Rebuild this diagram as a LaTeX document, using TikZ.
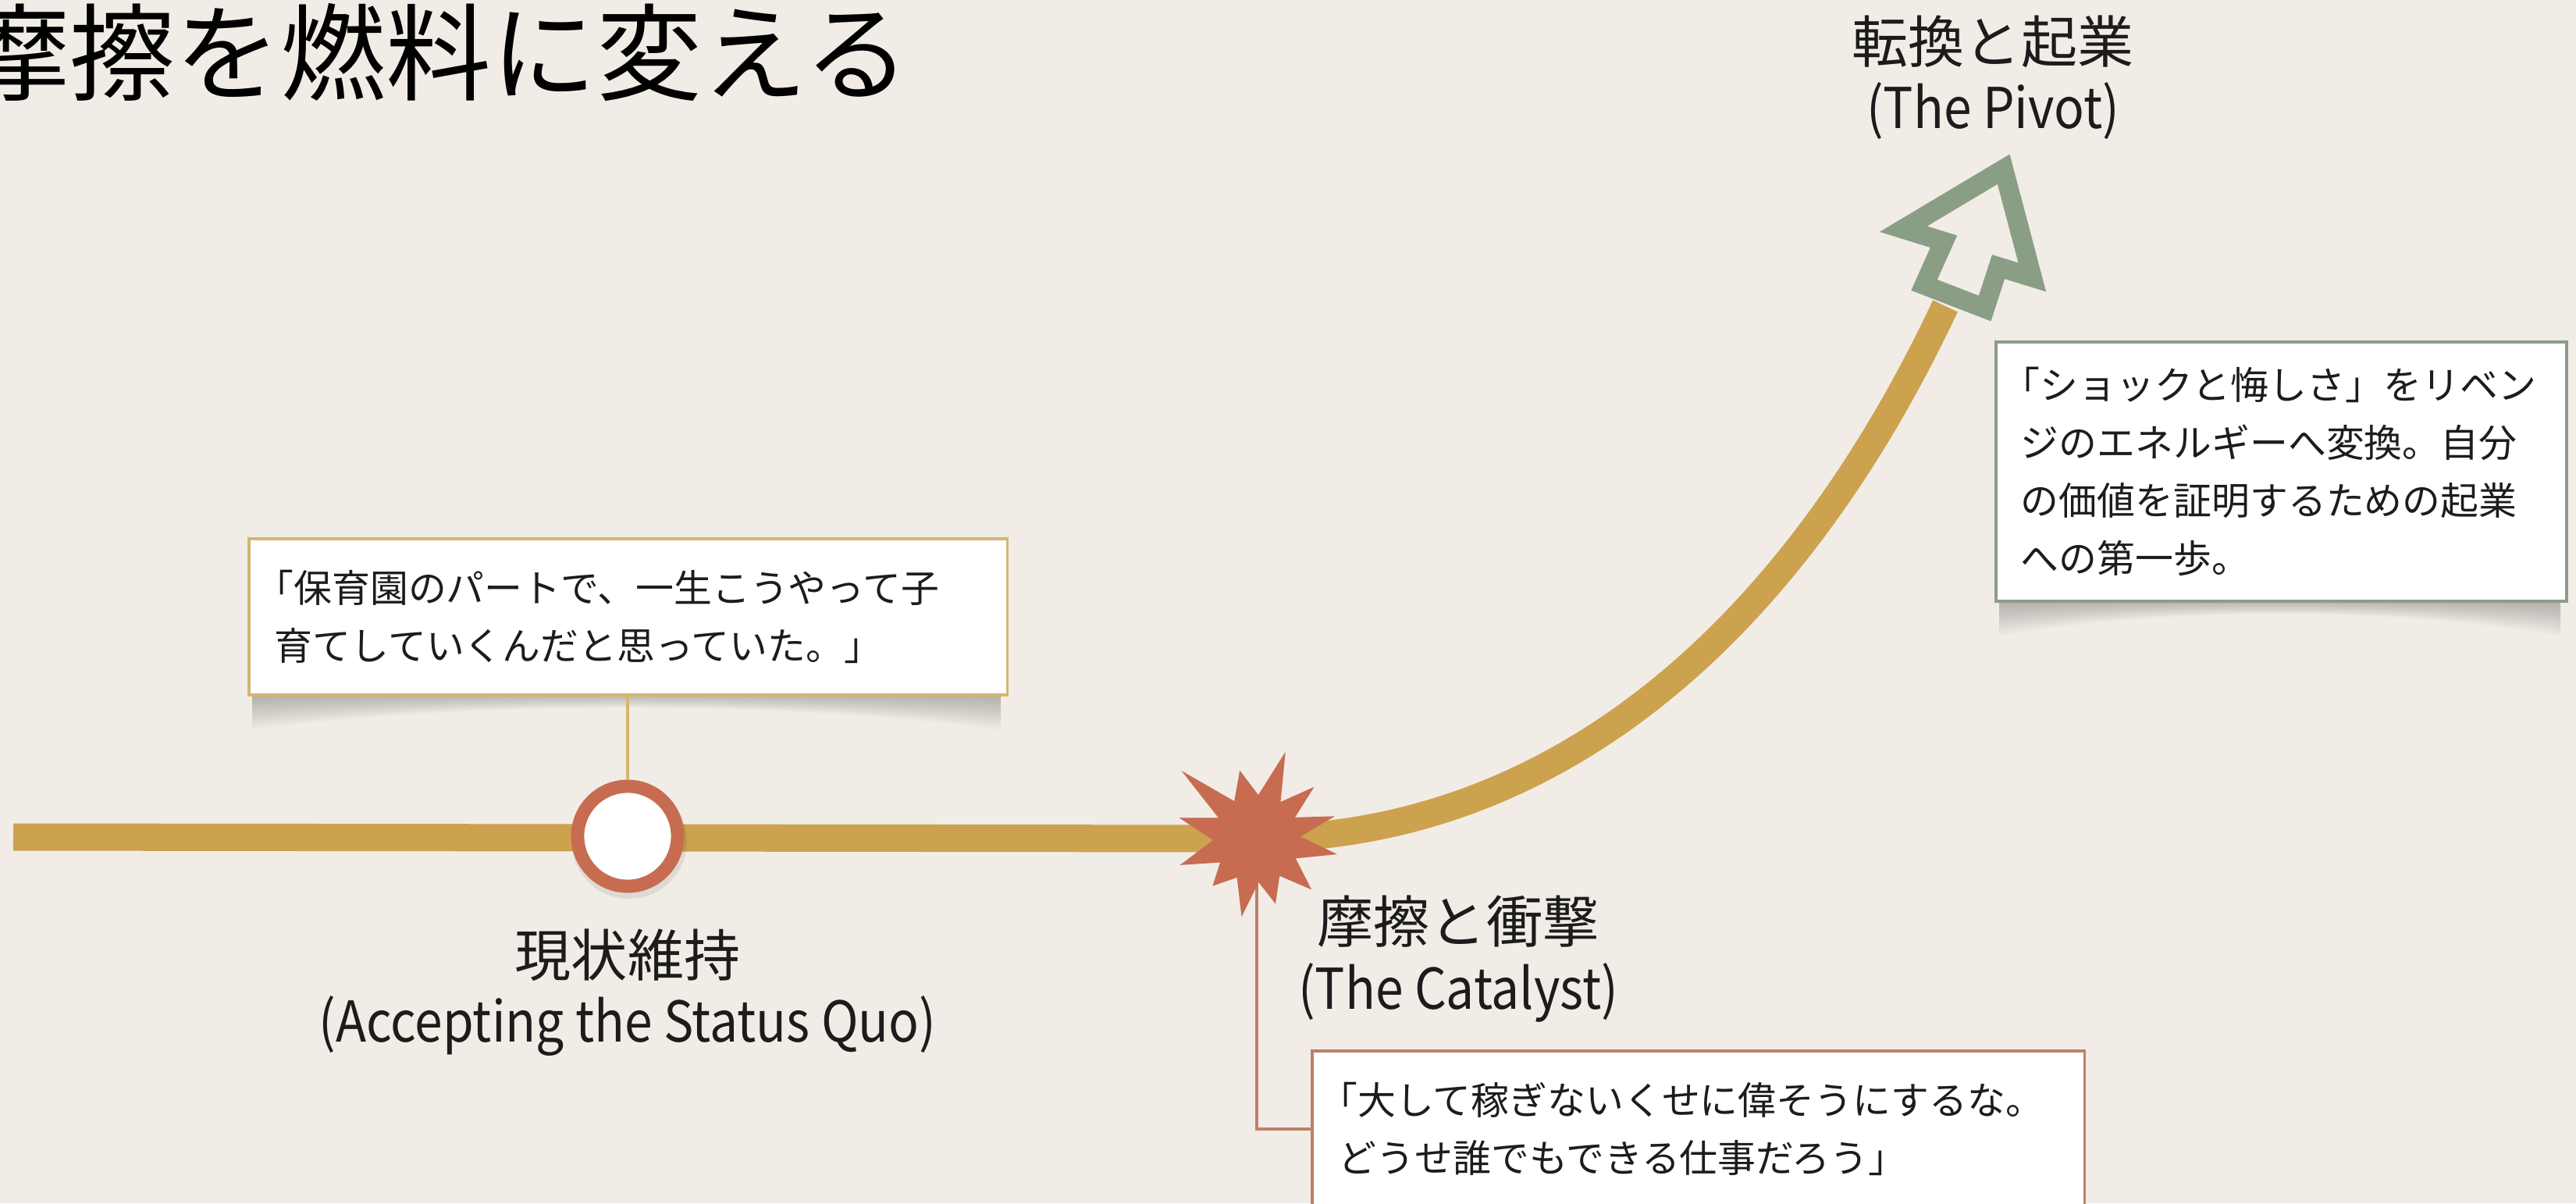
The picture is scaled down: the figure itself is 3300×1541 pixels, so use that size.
\documentclass[tikz,border=0pt]{standalone}
\usepackage{fontspec}
\setmainfont{Noto Sans CJK JP}
\definecolor{bg}{RGB}{241,237,230}
\definecolor{gold}{RGB}{205,162,78}
\definecolor{goldbox}{RGB}{212,182,112}
\definecolor{rust}{RGB}{199,108,80}
\definecolor{rustline}{RGB}{190,128,104}
\definecolor{sage}{RGB}{138,158,134}
\definecolor{sagebox}{RGB}{140,156,136}
\definecolor{ink}{RGB}{28,28,28}
\newcommand{\boxshadow}[3]{%
  \foreach \d in {6,10,...,46}{%
    \fill[black,opacity=0.022] (#1+6,#3-6) -- (#1+6,#3+\d)
      .. controls ({#1+0.3*(#2-#1)},{#3+0.2*\d}) and ({#2-0.3*(#2-#1)},{#3+0.2*\d}) .. (#2-6,#3+\d)
      -- (#2-6,#3-6) -- cycle;
  }%
}
\newcommand{\narrow}[1]{\scalebox{0.89}[1]{#1}}
\begin{document}
\begin{tikzpicture}[x=0.01cm,y=-0.01cm,
  goldline/.style={line width=9.96pt, draw=gold},
  qbox/.style={fill=white, line width=1.1pt, align=left, inner ysep=0pt,
    font=\fontsize{13.9}{21}\selectfont, text=ink, anchor=north west},
  lbl/.style={align=center, font=\fontsize{20.5}{24}\selectfont, text=ink, inner sep=0pt},
  conn/.style={line width=1.3pt}
]
\fill[bg] (0,0) rectangle (3300,1541);
\useasboundingbox (0,0) rectangle (3300,1541);

% title
\node[anchor=west, inner sep=0pt, text=black, font=\fontsize{38.4}{40}\selectfont] (title) at (-46,67) {摩擦を燃料に変える};

% shadows of boxes
\boxshadow{317}{1288}{888}
\boxshadow{2555}{3286}{768}

% timeline
\coordinate (t0) at (17,1072);
\coordinate (cat) at (1610,1074);
\coordinate (pv) at (2492,392);
\draw[goldline] (t0) -- (cat);
\draw[goldline] (cat) .. controls (2000,1072) and (2300,800) .. (pv);

% status quo
\node[qbox, draw=goldbox, minimum width=9.71cm, minimum height=2cm, text width=9.05cm, inner xsep=0.33cm] (q1) at (317,688)
  {\hspace{-0.5em}「保育園のパートで、一生こうやって子\\育てしていくんだと思っていた。」};
\fill[black,opacity=0.08] (806,1077) circle (74);
\node[circle, draw=rust, line width=4.8pt, fill=white, minimum size=1.28cm, inner sep=0pt] (sq) at (804,1071) {};
\draw[conn, draw=goldbox] (q1.south -| sq.north) -- (sq.north);
\node[lbl] (l1) at (804,1271) {現状維持\\\narrow{(Accepting the Status Quo)}};

% catalyst
\node[qbox, draw=rustline, minimum width=9.89cm, minimum height=2cm, text width=9.21cm, inner xsep=0.34cm] (q3) at (1679,1344)
  {\hspace{-0.5em}「大して稼ぎないくせに偉そうにするな。\\どうせ誰でもできる仕事だろう」};
\draw[conn, draw=rustline] (cat) |- (q3.west);
\fill[rust, shift={(cat)}] (-71.7:117) -- (-57:56) -- (-42:99) -- (-29:56) -- (-16:104) -- (-2.5:56)
  -- (11:105) -- (27:56) -- (43:96) -- (58.5:56) -- (74:87) -- (87.5:56) -- (101:102) -- (117:56)
  -- (133:83) -- (147:56) -- (161:104) -- (178:56) -- (195:103) -- (208.5:56) -- (222:130)
  -- (239:56) -- (256:90) -- (272:56) -- cycle;
\node[lbl] (l2) at (1868,1228) {摩擦と衝撃\\\narrow{(The Catalyst)}};

% pivot
\draw[sage, fill=bg, line width=7.1pt, line join=miter, miter limit=3]
  (2566.7,216.7) -- (2438.3,293.3) -- (2490,309.3) -- (2465,365) -- (2542.7,395)
  -- (2560,341.7) -- (2603.3,355) -- cycle;
\node[lbl] (l3) at (2553,99) {転換と起業\\\narrow{(The Pivot)}};
\node[qbox, draw=sagebox, minimum width=7.31cm, minimum height=3.32cm, text width=6.67cm, inner xsep=0.32cm] (q2) at (2555,436)
  {\hspace{-0.5em}「ショックと悔しさ」をリベン\\ジのエネルギーへ変換。自分\\の価値を証明するための起業\\への第一歩。};
\end{tikzpicture}
\end{document}
